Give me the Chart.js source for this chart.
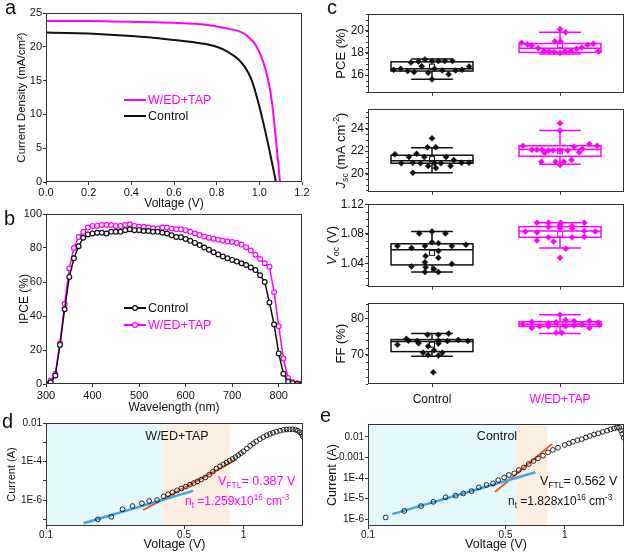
<!DOCTYPE html>
<html>
<head>
<meta charset="utf-8">
<script src="https://cdn.jsdelivr.net/npm/chart.js@4.4.1/dist/chart.umd.min.js"></script>
<style>
  body { margin: 0; background: #fff; }
  #page { position: relative; width: 628px; height: 553px; overflow: hidden; background: #fff; }
  canvas { position: absolute; }
  .tag { position: absolute; font: 20px/1 "Liberation Sans", Arial, sans-serif; color: #111; }
</style>
</head>
<body>
<div id="page">
  <canvas id="ca"></canvas>
  <canvas id="cb"></canvas>
  <canvas id="c1"></canvas>
  <canvas id="c2"></canvas>
  <canvas id="c3"></canvas>
  <canvas id="c4"></canvas>
  <canvas id="cd"></canvas>
  <canvas id="ce"></canvas>
  <div class="tag" style="left:5px;top:-3px">a</div>
  <div class="tag" style="left:4px;top:208px">b</div>
  <div class="tag" style="left:327px;top:-3px">c</div>
  <div class="tag" style="left:2px;top:411px">d</div>
  <div class="tag" style="left:320px;top:405px">e</div>
</div>
<script>
// ===== Data =====
const groups = ['Control', 'W/ED+TAP'];
const MAG = '#ff00ff';

// a: J-V curves
const jvWedV = [0, 0.1, 0.2, 0.3, 0.4, 0.5, 0.6, 0.7, 0.75, 0.8, 0.85, 0.9, 0.93, 0.96, 0.98, 1.0, 1.02, 1.04, 1.06, 1.08, 1.1, 1.12];
const jvWedJ = [23.8, 23.8, 23.8, 23.75, 23.7, 23.65, 23.55, 23.4, 23.25, 23.0, 22.7, 22.35, 21.9, 21.1, 20.4, 19.2, 17.6, 15.3, 11.6, 5.6, -1.0, -8.0];
const jvCtrlV = [0, 0.1, 0.2, 0.3, 0.4, 0.5, 0.6, 0.7, 0.75, 0.8, 0.85, 0.9, 0.93, 0.96, 0.99, 1.02, 1.05, 1.08, 1.1];
const jvCtrlJ = [22.1, 22.05, 21.95, 21.8, 21.6, 21.35, 21.0, 20.65, 20.4, 20.0, 19.3, 18.2, 17.1, 15.4, 12.4, 8.6, 4.3, -0.3, -3.5];

// b: IPCE
const ipceNm = [300, 310, 320, 330, 340, 350, 360, 370, 380, 390, 400, 410, 420, 430, 440, 450, 460, 470, 480, 490,
  500, 510, 520, 530, 540, 550, 560, 570, 580, 590, 600, 610, 620, 630, 640, 650, 660, 670, 680, 690,
  700, 710, 720, 730, 740, 750, 760, 770, 780, 790, 800, 810, 820, 830, 840, 850];
const ipceCtrl = [0, 1, 5, 23, 44, 63, 74, 81, 86, 88, 88.5, 89, 89, 88.5, 89.5, 89.5, 89.5, 90.5, 91, 90.5,
  90.5, 90, 90, 89.5, 89.5, 89, 88.5, 87.5, 86.5, 86.3, 85.3, 84.2, 83, 81.7, 80.3, 79, 77.5, 76.2, 75, 74,
  73, 72, 71, 70, 68.5, 67, 64, 60, 48, 35, 18, 6, 1.5, 0.5, 0, 0];
const ipceWed = [0, 2, 6, 24, 47, 68, 80, 86.5, 89.5, 92, 93, 93, 93.5, 93.5, 93.5, 93, 93, 93.5, 94, 93,
  92.5, 92.5, 92, 91.5, 91.5, 92, 92, 91.5, 91, 91, 90.5, 89.5, 88.5, 87.6, 86.8, 86, 85.4, 84.8, 84.3, 83.8,
  83.5, 83, 82, 80.5, 78.5, 76, 73.5, 71, 69, 54, 34, 15, 3.5, 1, 0.5, 0.5];

// c: box plots -> [whisker low, Q1, median, Q3, whisker high, mean]
const pceBox = [[15.61, 16.36, 16.56, 17.19, 17.45, 16.76], [17.9, 18.04, 18.42, 18.84, 19.85, 18.7]];
const pceCtrlJit = [-0.30, -0.245, -0.19, -0.14, -0.165, -0.105, -0.055, 0, 0.05, 0.10, 0.16, -0.08, -0.03, 0.02, 0.08, 0.13, 0.185, 0.235, 0.29, 0];
const pceCtrl = [16.47, 16.56, 16.36, 16.27, 17.13, 17.22, 17.41, 17.27, 17.27, 17.27, 17.27, 16.79, 16.21, 16.56, 16.42, 16.07, 16.42, 16.47, 16.76, 15.61];
const pceWedJit = [-0.30, -0.255, -0.22, -0.17, -0.125, -0.085, -0.045, 0, 0.04, 0.085, 0.13, 0.17, 0.215, 0.26, 0.30, -0.04, 0.005, 0, 0.045];
const pceWed = [18.9, 18.76, 18.65, 18.42, 18.18, 18.13, 18.07, 17.99, 18.13, 18.18, 18.36, 18.48, 18.7, 18.82, 18.13, 19.04, 19.04, 20.13, 19.85];

const jscBox = [[20.06, 20.92, 21.14, 21.63, 22.29, 21.28], [20.83, 21.54, 22.14, 22.48, 23.83, 22.0]];
const jscCtrlJit = [-0.29, -0.24, -0.18, -0.15, -0.12, -0.09, -0.06, -0.03, -0.035, 0, 0.02, 0.03, 0.03, 0.07, 0.11, 0.145, 0.17, 0.23, 0.29, -0.15];
const jscCtrl = [21.71, 20.92, 21.48, 20.97, 21.77, 20.92, 21.48, 20.68, 22.34, 23.14, 20.92, 22.34, 20.49, 20.92, 21.48, 20.68, 21.2, 20.97, 20.97, 20.06];
const jscWedJit = [-0.29, -0.22, -0.18, -0.14, -0.12, -0.09, -0.055, 0, 0, 0, 0.06, 0.11, 0.15, 0.175, 0.23, 0.29, -0.145, -0.035, 0.03, 0, 0.09];
const jscWed = [22.48, 22.12, 22.12, 22.12, 21.83, 22.06, 22.06, 22.06, 24.48, 23.83, 22.06, 22.4, 21.91, 22.2, 22.63, 22.48, 21.05, 21.05, 21.05, 20.77, 21.2];

const vocBox = [[1.028, 1.0377, 1.0584, 1.0663, 1.083, 1.054], [1.0606, 1.0751, 1.0838, 1.0896, 1.095, 1.0795]];
const vocCtrlJit = [-0.27, -0.16, -0.10, -0.055, -0.05, -0.055, -0.05, -0.055, 0, 0, 0.05, 0.05, 0.05, 0.05, 0.105, 0.155, 0.155, 0.265, -0.16, 0.015];
const vocCtrl = [1.0633, 1.0606, 1.0804, 1.0633, 1.0496, 1.0412, 1.0346, 1.028, 1.083, 1.0685, 1.0672, 1.0567, 1.0474, 1.028, 1.0804, 1.0633, 1.039, 1.065, 1.0355, 1.032];
const vocWedJit = [-0.27, -0.18, -0.18, -0.18, -0.09, -0.09, -0.05, -0.09, 0, 0, 0.005, 0.045, 0, 0.095, 0.095, 0.19, 0.19, 0.19, 0.275, 0.095];
const vocWed = [1.083, 1.0817, 1.095, 1.0707, 1.0891, 1.0751, 1.0693, 1.095, 1.0918, 1.0874, 1.095, 1.0597, 1.0474, 1.0904, 1.0751, 1.095, 1.0838, 1.0759, 1.083, 1.087];

const ffBox = [[69.6, 70.9, 73.7, 74.2, 75.85, 72.8], [75.9, 77.85, 78.45, 79.1, 81.0, 78.4]];
const ffCtrlJit = [-0.27, -0.20, -0.185, -0.115, -0.105, -0.07, -0.03, -0.035, -0.03, 0.015, 0.05, 0.05, 0.05, 0.08, 0.12, 0.13, 0.205, 0.28, 0.01, 0.05];
const ffCtrl = [72.8, 74.4, 73.9, 73.8, 73.2, 70.6, 70.0, 75.5, 72.4, 71.3, 75.5, 73.1, 69.8, 70.6, 73.8, 75.85, 74.1, 73.8, 65.2, 73.9];
const ffWedJit = [-0.29, -0.22, -0.22, -0.16, -0.09, -0.09, -0.03, 0, 0.015, -0.03, 0.045, 0.045, 0.11, 0.11, 0.17, 0.175, 0.23, 0.23, 0.31, 0.30];
const ffWed = [78.45, 79.1, 77.4, 77.85, 78.7, 77.85, 76.1, 81.05, 76.1, 79.0, 79.6, 77.85, 79.3, 78.1, 78.3, 78.45, 79.3, 77.4, 78.3, 78.9];

// d: SCLC, W/ED+TAP
const dV = [0.183, 0.214, 0.244, 0.274, 0.306, 0.333, 0.365, 0.394, 0.415, 0.437, 0.461, 0.485, 0.51, 0.535, 0.56, 0.585, 0.61, 0.64, 0.67, 0.70,
  0.73, 0.76, 0.79, 0.82, 0.85, 0.88, 0.91, 0.94, 0.97, 1.00, 1.04, 1.08, 1.12, 1.16, 1.21, 1.26, 1.31, 1.36, 1.41, 1.47,
  1.53, 1.59, 1.65, 1.71, 1.77, 1.83, 1.88, 1.93, 1.97, 2.0];
const dI = [1.0e-7, 1.35e-7, 3.3e-7, 4.9e-7, 6.8e-7, 8.9e-7, 1.0e-6, 1.55e-6, 2.0e-6, 2.5e-6, 3.2e-6, 4.0e-6, 5.0e-6, 6.3e-6, 7.6e-6, 9.3e-6, 1.15e-5, 1.48e-5, 2.1e-5, 3.0e-5,
  4.3e-5, 5.6e-5, 7.1e-5, 8.9e-5, 1.1e-4, 1.38e-4, 1.7e-4, 2.14e-4, 2.7e-4, 3.4e-4, 4.7e-4, 6.5e-4, 8.7e-4, 1.12e-3, 1.45e-3, 1.86e-3, 2.3e-3, 2.7e-3, 3.1e-3, 3.55e-3,
  4.0e-3, 4.4e-3, 4.6e-3, 4.7e-3, 4.7e-3, 4.5e-3, 4.0e-3, 3.3e-3, 2.6e-3, 2.0e-3];
const dBlueV = [0.155, 0.555], dBlueI = [6.2e-8, 3.0e-6];
const dRedV = [0.31, 0.922], dRedI = [3.0e-7, 1.3e-4];
const dCyan = [0.1, 0.387], dOrange = [0.387, 0.85];
const dYTicks = [1e-7, 1e-6, 1e-5, 1e-4, 1e-3, 1e-2];
const dYLabels = ['', '1E-6', '', '1E-4', '', '0.01'];

// e: SCLC, Control
const eV = [0.123, 0.153, 0.186, 0.215, 0.248, 0.279, 0.305, 0.336, 0.366, 0.400, 0.432, 0.459, 0.492, 0.520, 0.554, 0.584, 0.620, 0.656, 0.694, 0.731,
  0.775, 0.822, 0.87, 0.924, 1.0, 1.05, 1.10, 1.16, 1.22, 1.28, 1.34, 1.41, 1.48, 1.56, 1.64, 1.71, 1.78, 1.84, 1.89, 1.93, 1.96, 1.99];
const eI = [1.2e-6, 2.5e-6, 4.3e-6, 6.9e-6, 1.15e-5, 1.38e-5, 1.78e-5, 2.3e-5, 3.5e-5, 4.6e-5, 5.5e-5, 7.9e-5, 1.07e-4, 1.41e-4, 1.7e-4, 2.45e-4, 3.3e-4, 4.8e-4, 6.8e-4, 9.1e-4,
  1.23e-3, 1.78e-3, 2.34e-3, 3.0e-3, 4.1e-3, 4.9e-3, 5.9e-3, 6.9e-3, 7.9e-3, 9.5e-3, 1.12e-2, 1.32e-2, 1.51e-2, 1.78e-2, 2.04e-2, 2.34e-2, 2.63e-2, 2.88e-2, 2.82e-2, 2.1e-2, 1.41e-2, 9.3e-3];
const eBlueV = [0.133, 0.71], eBlueI = [1.74e-6, 1.9e-4];
const eRedV = [0.442, 0.86], eRedI = [2.1e-5, 4.6e-3];
const eCyan = [0.1, 0.562], eOrange = [0.562, 0.815];
const eYTicks = [1e-6, 1e-5, 1e-4, 1e-3, 1e-2];
const eYLabels = ['1E-6', '1E-5', '1E-4', '0.001', '0.01'];

const vTicks = [0.1, 0.5, 1];
const vLabels = ['0.1', '0.5', '1'];

// ===== Helpers =====
const FAM = '"Liberation Sans", Arial, sans-serif';
Chart.defaults.font.family = FAM;
Chart.defaults.color = '#111';

const xy = (xs, ys) => xs.map((v, i) => ({ x: v, y: ys[i] }));

function rich(ctx, x, y, parts, size, color, align) {
  const fontOf = p => (p[1] === 'i' ? 'italic ' : '') + ((p[1] === 'sub' || p[1] === 'sup') ? size * 0.68 : size) + 'px ' + FAM;
  let w = 0;
  parts.forEach(p => { ctx.font = fontOf(p); w += ctx.measureText(p[0]).width; });
  let cx = align === 'center' ? x - w / 2 : x;
  ctx.fillStyle = color; ctx.textBaseline = 'alphabetic'; ctx.textAlign = 'left';
  parts.forEach(p => {
    ctx.font = fontOf(p);
    const dy = p[1] === 'sub' ? size * 0.25 : p[1] === 'sup' ? -size * 0.42 : 0;
    ctx.fillText(p[0], cx, y + dy);
    cx += ctx.measureText(p[0]).width;
  });
}

const framePlugin = {
  id: 'frame',
  afterDatasetsDraw(ch) {
    const a = ch.chartArea, ctx = ch.ctx;
    ctx.save();
    ctx.strokeStyle = '#333'; ctx.lineWidth = 1;
    ctx.strokeRect(Math.round(a.left) + 0.5, Math.round(a.top) + 0.5, Math.round(a.right - a.left) - 1, Math.round(a.bottom - a.top) - 1);
    ctx.restore();
  }
};

function axis(o) {
  return {
    type: o.type || 'linear', position: o.pos, min: o.min, max: o.max,
    afterBuildTicks: s => { s.ticks = o.ticks.map(v => ({ value: v })); },
    ticks: {
      autoSkip: false, maxRotation: 0, minRotation: 0, padding: o.pad == null ? 1 : o.pad,
      font: { size: o.fs || 11 }, color: o.colors ? (c => o.colors[c.index]) : '#111',
      callback: (v, i) => o.labels[i]
    },
    grid: { drawOnChartArea: false, drawTicks: true, tickLength: 3, color: '#333' },
    border: { display: false },
    title: o.title ? { display: true, text: o.title, color: '#111', font: { size: o.tfs || 12 }, padding: o.tpad } : { display: false }
  };
}

function build(id, box, plot, cfg) {
  const cv = document.getElementById(id);
  cv.width = box[2]; cv.height = box[3];
  Object.assign(cv.style, { left: box[0] + 'px', top: box[1] + 'px', width: box[2] + 'px', height: box[3] + 'px' });
  const yW = plot[0] - box[0];
  const xH = box[1] + box[3] - plot[3];
  cfg.x.afterFit = s => { s.height = xH; };
  cfg.y.afterFit = s => { s.width = yW; };
  return new Chart(cv, {
    type: 'scatter',
    data: { datasets: cfg.datasets },
    options: {
      responsive: false, animation: false, events: [],
      layout: { autoPadding: false, padding: { left: 0, bottom: 0, top: plot[1] - box[1], right: box[0] + box[2] - plot[2] } },
      plugins: { legend: { display: false }, tooltip: { enabled: false } },
      scales: { x: cfg.x, y: cfg.y }
    },
    plugins: [framePlugin].concat(cfg.plugins || [])
  });
}

function legendPlugin(items) {
  return {
    id: 'leg',
    afterDraw(ch) {
      const ctx = ch.ctx;
      ctx.save();
      items.forEach(it => {
        ctx.strokeStyle = it.color; ctx.lineWidth = 2;
        ctx.beginPath(); ctx.moveTo(it.x, it.y); ctx.lineTo(it.x + 22, it.y); ctx.stroke();
        if (it.marker) {
          ctx.lineWidth = 1.2; ctx.fillStyle = '#fff';
          ctx.beginPath(); ctx.arc(it.x + 11, it.y, 2.4, 0, Math.PI * 2); ctx.fill(); ctx.stroke();
        }
        ctx.fillStyle = it.textColor; ctx.font = '12.5px ' + FAM;
        ctx.textBaseline = 'middle'; ctx.textAlign = 'left';
        ctx.fillText(it.text, it.x + 24, it.y + 1);
      });
      ctx.restore();
    }
  };
}

// ===== a =====
build('ca', [0, 0, 314, 212], [46, 13, 302, 182], {
  x: axis({ pos: 'bottom', min: 0, max: 1.2, ticks: [0, 0.2, 0.4, 0.6, 0.8, 1.0, 1.2],
    labels: ['0.0', '0.2', '0.4', '0.6', '0.8', '1.0', '1.2'], pad: 1, title: 'Voltage (V)', tpad: { top: 0, bottom: 1 } }),
  y: axis({ pos: 'left', min: 0, max: 25, ticks: [0, 5, 10, 15, 20, 25], labels: ['0', '5', '10', '15', '20', '25'],
    title: 'Current Density (mA/cm\u00b2)', tfs: 11.5, tpad: { top: 15, bottom: 0 } }),
  datasets: [
    { data: xy(jvCtrlV, jvCtrlJ), showLine: true, borderColor: '#111', borderWidth: 2, pointRadius: 0, cubicInterpolationMode: 'monotone' },
    { data: xy(jvWedV, jvWedJ), showLine: true, borderColor: MAG, borderWidth: 2, pointRadius: 0, cubicInterpolationMode: 'monotone' }
  ],
  plugins: [legendPlugin([
    { x: 124, y: 100, color: MAG, text: 'W/ED+TAP', textColor: MAG },
    { x: 124, y: 116, color: '#111', text: 'Control', textColor: '#111' }
  ])]
});

// ===== b =====
build('cb', [0, 205, 314, 212], [46, 214, 302, 384], {
  x: axis({ pos: 'bottom', min: 300, max: 850, ticks: [300, 400, 500, 600, 700, 800],
    labels: ['300', '400', '500', '600', '700', '800'], pad: 2, title: 'Wavelength (nm)', tpad: { top: 0, bottom: 2 } }),
  y: axis({ pos: 'left', min: 0, max: 100, ticks: [0, 20, 40, 60, 80, 100], labels: ['0', '20', '40', '60', '80', '100'],
    title: 'IPCE (%)', tpad: { top: 17, bottom: 0 } }),
  datasets: [
    { data: xy(ipceNm, ipceCtrl), showLine: true, borderColor: '#111', borderWidth: 1.5, pointRadius: 2.4,
      pointBorderWidth: 1.2, pointBackgroundColor: '#fff', pointBorderColor: '#111' },
    { data: xy(ipceNm, ipceWed), showLine: true, borderColor: MAG, borderWidth: 1.5, pointRadius: 2.4,
      pointBorderWidth: 1.2, pointBackgroundColor: '#fff', pointBorderColor: MAG }
  ],
  plugins: [legendPlugin([
    { x: 124, y: 103, color: '#111', text: 'Control', textColor: '#111', marker: true },
    { x: 124, y: 120, color: MAG, text: 'W/ED+TAP', textColor: MAG, marker: true }
  ])]
});

// ===== c =====
const groupColors = ['#111', MAG];
function boxPlugin(stats, titleParts, minorStep, titleGap) {
  return {
    id: 'box',
    beforeDatasetsDraw(ch) {
      const xs = ch.scales.x, ys = ch.scales.y, ctx = ch.ctx;
      ctx.save();
      stats.forEach((s, i) => {
        const c = i + 1;
        const L = xs.getPixelForValue(c - 0.32), R = xs.getPixelForValue(c + 0.32), C = xs.getPixelForValue(c);
        const wl = xs.getPixelForValue(c - 0.163), wr = xs.getPixelForValue(c + 0.163);
        const [lo, q1, med, q3, hi, mean] = s.map(v => ys.getPixelForValue(v));
        ctx.strokeStyle = groupColors[i]; ctx.lineWidth = 1.5;
        ctx.strokeRect(L, q3, R - L, q1 - q3);
        ctx.beginPath();
        ctx.moveTo(L, med); ctx.lineTo(R, med);
        ctx.moveTo(C, q3); ctx.lineTo(C, hi);
        ctx.moveTo(C, q1); ctx.lineTo(C, lo);
        ctx.moveTo(wl, hi); ctx.lineTo(wr, hi);
        ctx.moveTo(wl, lo); ctx.lineTo(wr, lo);
        ctx.stroke();
        ctx.lineWidth = 1;
        ctx.strokeRect(C - 2.5, mean - 2.5, 5, 5);
      });
      ctx.restore();
    },
    afterDraw(ch) {
      const a = ch.chartArea, ctx = ch.ctx, ys = ch.scales.y;
      ctx.save();
      ctx.strokeStyle = '#333'; ctx.lineWidth = 1;
      ctx.beginPath();
      for (let v = Math.ceil(ys.min / minorStep) * minorStep; v <= ys.max + 1e-9; v += minorStep) {
        const p = Math.round(ys.getPixelForValue(v)) + 0.5;
        ctx.moveTo(a.left - 2, p); ctx.lineTo(a.left, p);
      }
      ctx.stroke();
      ctx.translate(a.left - titleGap, (a.top + a.bottom) / 2);
      ctx.rotate(-Math.PI / 2);
      rich(ctx, 0, 4.5, titleParts, 13, '#111', 'center');
      ctx.restore();
    }
  };
}

function boxChart(id, box, plot, yo, stats, ctrlJit, ctrl, wedJit, wed, titleParts, minorStep, titleGap, bottom) {
  build(id, box, plot, {
    x: axis({ pos: 'bottom', min: 0.5, max: 2.5, ticks: [1, 2], labels: bottom ? groups : ['', ''],
      colors: groupColors, fs: 12, pad: 5 }),
    y: axis(Object.assign({ pos: 'left', fs: 12, pad: 1 }, yo)),
    datasets: [
      { data: xy(ctrlJit.map(j => 1 + j), ctrl), pointStyle: 'rectRot', pointRadius: 3, backgroundColor: '#111', borderColor: '#111', borderWidth: 0.5 },
      { data: xy(wedJit.map(j => 2 + j), wed), pointStyle: 'rectRot', pointRadius: 3, backgroundColor: MAG, borderColor: MAG, borderWidth: 0.5 }
    ],
    plugins: [boxPlugin(stats, titleParts, minorStep, titleGap)]
  });
}

boxChart('c1', [318, 0, 310, 101], [368, 14, 624, 98],
  { min: 14.4, max: 21.5, ticks: [16, 18, 20], labels: ['16', '18', '20'] },
  pceBox, pceCtrlJit, pceCtrl, pceWedJit, pceWed, [['PCE (%)', '']], 0.5, 28, false);
boxChart('c2', [318, 101, 310, 99], [368, 107, 624, 193],
  { min: 18.37, max: 25.74, ticks: [20, 22, 24], labels: ['20', '22', '24'] },
  jscBox, jscCtrlJit, jscCtrl, jscWedJit, jscWed,
  [['J', 'i'], ['sc', 'sub'], [' (mA cm', ''], ['-2', 'sup'], [')', '']], 0.5, 28, false);
boxChart('c3', [318, 196, 310, 99], [368, 204, 624, 289],
  { min: 1.008, max: 1.12, ticks: [1.04, 1.08, 1.12], labels: ['1.04', '1.08', '1.12'] },
  vocBox, vocCtrlJit, vocCtrl, vocWedJit, vocWed,
  [['V', 'i'], ['oc', 'sub'], [' (V)', '']], 0.01, 37, false);
boxChart('c4', [318, 295, 310, 120], [368, 299, 624, 384],
  { min: 62, max: 84.2, ticks: [70, 80], labels: ['70', '80'] },
  ffBox, ffCtrlJit, ffCtrl, ffWedJit, ffWed, [['FF (%)', '']], 2, 28, true);

// ===== d, e =====
function sclcPlugin(cyan, orange, notes) {
  return {
    id: 'sclc',
    beforeDatasetsDraw(ch) {
      const a = ch.chartArea, xs = ch.scales.x, ctx = ch.ctx;
      ctx.save();
      const x0 = xs.getPixelForValue(cyan[0]), x1 = xs.getPixelForValue(cyan[1]), x2 = xs.getPixelForValue(orange[1]);
      ctx.fillStyle = '#e4f9fc'; ctx.fillRect(x0, a.top, x1 - x0, a.bottom - a.top);
      ctx.fillStyle = '#fcefe2'; ctx.fillRect(x1, a.top, x2 - x1, a.bottom - a.top);
      ctx.restore();
    },
    afterDatasetsDraw(ch) {
      const ctx = ch.ctx;
      ctx.save();
      notes.forEach(n => rich(ctx, n.x, n.y, n.parts, n.size, n.color, n.align));
      ctx.restore();
    }
  };
}

function sclcData(v, i, bv, bi, rv, ri) {
  return [
    { data: xy(v, i), pointStyle: 'circle', pointRadius: 2.4, borderColor: '#111', borderWidth: 0.9, backgroundColor: 'rgba(0,0,0,0)' },
    { data: xy(bv, bi), showLine: true, borderColor: '#3ea6e0', borderWidth: 2.5, pointRadius: 0 },
    { data: xy(rv, ri), showLine: true, borderColor: '#f15a29', borderWidth: 2, pointRadius: 0 }
  ];
}

build('cd', [0, 415, 314, 138], [46, 423, 303, 526], {
  x: axis({ type: 'logarithmic', pos: 'bottom', min: 0.1, max: 2.0, ticks: vTicks, labels: vLabels, fs: 10, pad: 0,
    title: 'Voltage (V)', tfs: 12.5, tpad: { top: 0, bottom: 1 } }),
  y: axis({ type: 'logarithmic', pos: 'left', min: 4.5e-8, max: 0.01, ticks: dYTicks, labels: dYLabels, fs: 10,
    title: 'Current (A)', tfs: 11, tpad: { top: 5, bottom: 0 } }),
  datasets: sclcData(dV, dI, dBlueV, dBlueI, dRedV, dRedI),
  plugins: [sclcPlugin(dCyan, dOrange, [
    { x: 177, y: 25, parts: [['W/ED+TAP', '']], size: 12.5, color: '#111', align: 'center' },
    { x: 218, y: 70, parts: [['V', ''], ['FTL', 'sub'], ['= 0.387 V', '']], size: 12.5, color: MAG, align: 'left' },
    { x: 185, y: 90, parts: [['n', ''], ['t', 'sub'], [' =1.259x10', ''], ['16', 'sup'], [' cm', ''], ['-3', 'sup']], size: 12, color: MAG, align: 'left' }
  ])]
});

build('ce', [318, 415, 310, 138], [368, 424, 624, 526], {
  x: axis({ type: 'logarithmic', pos: 'bottom', min: 0.1, max: 2.0, ticks: vTicks, labels: vLabels, fs: 10, pad: 0,
    title: 'Voltage (V)', tfs: 12.5, tpad: { top: 0, bottom: 1 } }),
  y: axis({ type: 'logarithmic', pos: 'left', min: 4.6e-7, max: 0.043, ticks: eYTicks, labels: eYLabels, fs: 10,
    title: 'Current (A)', tfs: 12.5, tpad: { top: 7, bottom: 0 } }),
  datasets: sclcData(eV, eI, eBlueV, eBlueI, eRedV, eRedI),
  plugins: [sclcPlugin(eCyan, eOrange, [
    { x: 179, y: 25, parts: [['Control', '']], size: 12.5, color: '#111', align: 'center' },
    { x: 222, y: 70, parts: [['V', ''], ['FTL', 'sub'], ['= 0.562 V', '']], size: 12.5, color: '#111', align: 'left' },
    { x: 190, y: 90, parts: [['n', ''], ['t', 'sub'], [' =1.828x10', ''], ['16', 'sup'], [' cm', ''], ['-3', 'sup']], size: 12, color: '#111', align: 'left' }
  ])]
});
</script>
</body>
</html>
